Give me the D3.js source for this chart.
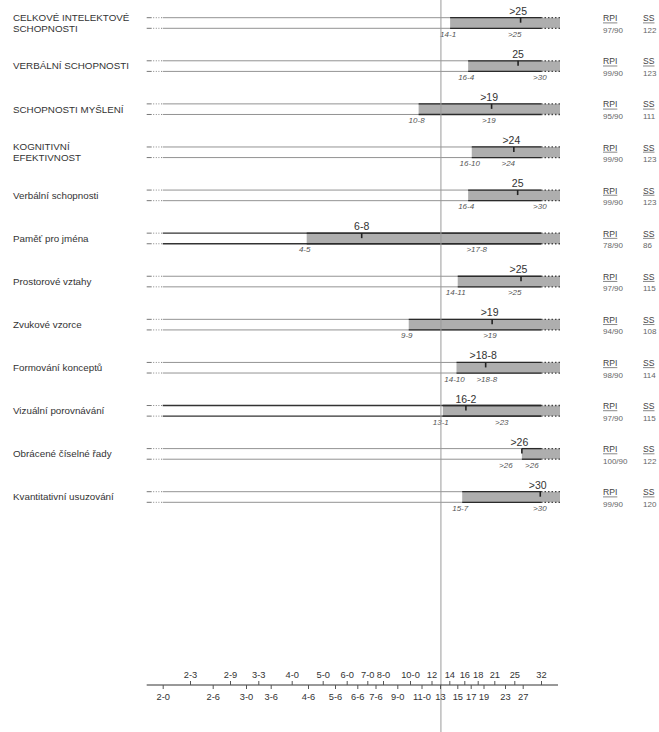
<!DOCTYPE html>
<html>
<head>
<meta charset="utf-8">
<script src="https://cdn.jsdelivr.net/npm/d3@7"></script>
<style>
  body { margin: 0; background: #fff; }
  svg { display: block; font-family: "Liberation Sans", Arial, sans-serif; }
</style>
</head>
<body>
<svg id="chart" width="659" height="732"></svg>
<script>
// test names (one entry per row, lines of the label)
const tests = [
  ["CELKOVÉ INTELEKTOVÉ", "SCHOPNOSTI"],
  ["VERBÁLNÍ SCHOPNOSTI"],
  ["SCHOPNOSTI MYŠLENÍ"],
  ["KOGNITIVNÍ", "EFEKTIVNOST"],
  ["Verbální schopnosti"],
  ["Paměť pro jména"],
  ["Prostorové vztahy"],
  ["Zvukové vzorce"],
  ["Formování konceptů"],
  ["Vizuální porovnávání"],
  ["Obrácené číselné řady"],
  ["Kvantitativní usuzování"]
];
// lower end of the band (age in years) and its label
const loAge   = [14.1, 16.6, 10.75, 17.15, 16.6, 4.46, 15.06, 9.9, 14.9, 13.3, 26.8, 15.7];
const loLabel = ["14-1", "16-4", "10-8", "16-10", "16-4", "4-5", "14-11", "9-9", "14-10", "13-1", ">26", "15-7"];
// age equivalent mark
const aeAge   = [26.5, 25.9, 20.5, 24.9, 25.8, 6.72, 26.6, 20.6, 19.4, 16.25, 26.8, 31.8];
const aeLabel = [">25", "25", ">19", ">24", "25", "6-8", ">25", ">19", ">18-8", "16-2", ">26", ">30"];
// upper end label
const hiAge   = [25.1, 31.7, 20.0, 23.7, 31.7, 17.86, 25.1, 20.2, 19.6, 22.4, 29.5, 31.7];
const hiLabel = [">25", ">30", ">19", ">24", ">30", ">17-8", ">25", ">19", ">18-8", ">23", ">26", ">30"];
const rpi = ["97/90", "99/90", "95/90", "99/90", "99/90", "78/90", "97/90", "94/90", "98/90", "97/90", "100/90", "99/90"];
const ss  = ["122", "123", "111", "123", "123", "86", "115", "108", "114", "115", "122", "120"];
const ageTicksTop    = ["2-3", "2-9", "3-3", "4-0", "5-0", "6-0", "7-0", "8-0", "10-0", "12", "14", "16", "18", "21", "25", "32"];
const ageTicksBottom = ["2-0", "2-6", "3-0", "3-6", "4-6", "5-6", "6-6", "7-6", "9-0", "11-0", "13", "15", "17", "19", "23", "27"];
const chronoAge = 13.1;

// age scale calibration (the scale is not linear nor log)
const calAges = [2, 2.25, 2.5, 2.75, 3, 3.25, 3.5, 4, 4.5, 5, 5.5, 6, 6.5, 7, 7.5, 8, 9, 10, 11, 12, 13, 14, 15, 16, 17, 18, 19, 21, 23, 25, 27, 32];
const calPx   = [162.7, 190, 212.7, 230, 246, 258.3, 270.7, 291.7, 308, 322.7, 335, 346.7, 357.3, 367.3, 375.5, 383, 397.3, 410, 421.5, 431.5, 440, 449.3, 457.3, 464.3, 470.7, 477.7, 483.5, 494.3, 505, 514.3, 522.7, 541];

const parseAge = s => {
  const p = s.split("-");
  return +p[0] + (p.length > 1 ? +p[1] / 12 : 0);
};

const x = d3.scaleLinear().domain(calAges).range(calPx);
const xMin = x(2), xMax = x(32);
const leftExt = 16, rightExt = 19;

const rowY = d3.scaleLinear().domain([0, tests.length - 1]).range([17.7, 491.7]);
const bandH = 10.6;
const darkRows = [5, 9];

const svg = d3.select("#chart");

tests.forEach((name, i) => {
  const top = rowY(i), bot = top + bandH;
  const g = svg.append("g");
  const dark = darkRows.includes(i);

  // row label
  if (name.length === 1) {
    g.append("text").attr("x", 13).attr("y", top + bandH / 2 + 3.4)
      .attr("font-size", 9.8).attr("fill", "#333").text(name[0]);
  } else {
    name.forEach((t, k) => {
      g.append("text").attr("x", 13).attr("y", (k === 0 ? top : bot) + 3.4)
        .attr("font-size", 9.8).attr("fill", "#333").text(t);
    });
  }

  // gray band
  g.append("rect")
    .attr("x", x(loAge[i])).attr("y", top)
    .attr("width", xMax + rightExt - x(loAge[i])).attr("height", bandH)
    .attr("fill", "#aeaeae");

  [top, bot].forEach(y => {
    // left dash + dots
    g.append("line").attr("x1", xMin - leftExt).attr("x2", xMin - leftExt + 5)
      .attr("y1", y).attr("y2", y).attr("stroke", "#777").attr("stroke-width", 1);
    g.append("line").attr("x1", xMin - leftExt + 6.5).attr("x2", xMin)
      .attr("y1", y).attr("y2", y).attr("stroke", "#888").attr("stroke-width", 1)
      .attr("stroke-dasharray", "1,1.6");
    // main line
    g.append("line").attr("x1", xMin).attr("x2", xMax).attr("y1", y).attr("y2", y)
      .attr("stroke", dark ? "#333" : "#939393").attr("stroke-width", dark ? 1.4 : 1);
    // darker line over the band
    g.append("line").attr("x1", x(loAge[i])).attr("x2", xMax).attr("y1", y).attr("y2", y)
      .attr("stroke", "#2a2a2a").attr("stroke-width", 1.3);
    // dotted end
    g.append("line").attr("x1", xMax).attr("x2", xMax + rightExt).attr("y1", y).attr("y2", y)
      .attr("stroke", "#444").attr("stroke-width", 1.3).attr("stroke-dasharray", "1.5,2");
  });

  // age equivalent mark
  const ax = x(aeAge[i]);
  g.append("line").attr("x1", ax).attr("x2", ax).attr("y1", top).attr("y2", top + 5)
    .attr("stroke", "#222").attr("stroke-width", 1.6);
  g.append("text").attr("x", ax + (aeLabel[i].startsWith(">") ? -2.5 : 0)).attr("y", top - 3)
    .attr("text-anchor", "middle").attr("font-size", 10.5).attr("fill", "#333").text(aeLabel[i]);

  // lower / upper labels
  const hx = x(hiAge[i]);
  let lx = x(loAge[i]) - 2;
  if (hx - lx < 26) lx = hx - 26;
  g.append("text").attr("x", lx).attr("y", bot + 8.5)
    .attr("text-anchor", "middle").attr("font-size", 8).attr("font-style", "italic")
    .attr("fill", "#555").text(loLabel[i]);
  g.append("text").attr("x", hx).attr("y", bot + 8.5)
    .attr("text-anchor", "middle").attr("font-size", 8).attr("font-style", "italic")
    .attr("fill", "#555").text(hiLabel[i]);

  // RPI / SS
  [["RPI", rpi[i], 603], ["SS", ss[i], 643]].forEach(([h, v, cx]) => {
    const t = g.append("text").attr("x", cx).attr("y", top + 3.6)
      .attr("font-size", 8.6).attr("fill", "#444").text(h);
    const w = t.node().getComputedTextLength();
    g.append("line").attr("x1", cx).attr("x2", cx + w).attr("y1", top + 5.2).attr("y2", top + 5.2)
      .attr("stroke", "#555").attr("stroke-width", 0.7);
    g.append("text").attr("x", cx).attr("y", bot + 4.5)
      .attr("font-size", 8).attr("fill", "#666").text(v);
  });
});

// chronological age line
svg.append("line")
  .attr("x1", x(chronoAge)).attr("x2", x(chronoAge))
  .attr("y1", 0).attr("y2", 732)
  .attr("stroke", "#9a9a9a").attr("stroke-width", 1);

// age axis
const axisY = 685;
svg.append("line").attr("x1", xMin - leftExt).attr("x2", xMax + rightExt - 2)
  .attr("y1", axisY).attr("y2", axisY).attr("stroke", "#333").attr("stroke-width", 1);

const topAxis = svg.append("g").attr("transform", `translate(0,${axisY})`)
  .call(d3.axisTop(x).tickValues(ageTicksTop.map(parseAge))
    .tickFormat((d, k) => ageTicksTop[k]).tickSize(4).tickPadding(3));
const botAxis = svg.append("g").attr("transform", `translate(0,${axisY})`)
  .call(d3.axisBottom(x).tickValues(ageTicksBottom.map(parseAge))
    .tickFormat((d, k) => ageTicksBottom[k]).tickSize(4).tickPadding(4));

[topAxis, botAxis].forEach(a => {
  a.select(".domain").remove();
  a.selectAll(".tick line").attr("stroke", "#555");
  a.selectAll(".tick text").attr("font-size", 9.3).attr("fill", "#333")
    .attr("font-family", "'Liberation Sans', Arial, sans-serif");
});
</script>
</body>
</html>
